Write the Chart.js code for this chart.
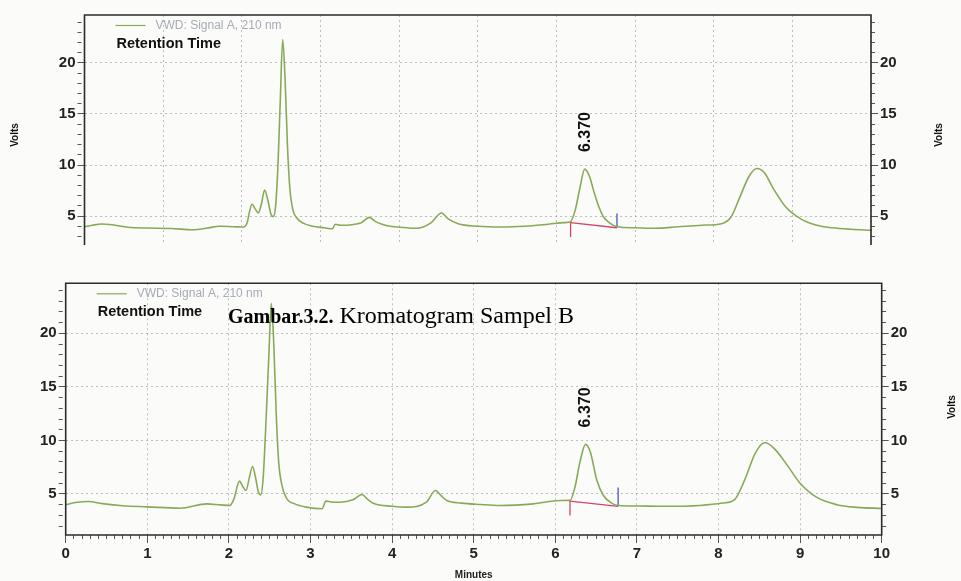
<!DOCTYPE html>
<html>
<head>
<meta charset="utf-8">
<script src="https://cdn.jsdelivr.net/npm/chart.js@4.4.0/dist/chart.umd.min.js"></script>
<style>
  html, body { margin: 0; padding: 0; background: #fbfbfa; }
  #wrap { position: relative; width: 961px; height: 581px; overflow: hidden; }
  canvas { position: absolute; left: 0; }
  #topChart { top: 0; }
  #botChart { top: 260px; }
  #caption { position: absolute; left: 228px; top: 302px; font-family: "Liberation Serif", "Times New Roman", serif;
             font-size: 20px; color: #000; white-space: nowrap; }
  #caption .rest { font-size: 24px; }
</style>
</head>
<body>
<div id="wrap">
  <canvas id="topChart" width="961" height="260"></canvas>
  <canvas id="botChart" width="961" height="321"></canvas>
  <div id="caption"><b>Gambar.3.2.</b><span class="rest"> Kromatogram Sampel B</span></div>
</div>
<script>
// retention time (minutes) and signal (volts)
const topTime  = [0.00, 0.10, 0.22, 0.35, 0.55, 0.80, 1.10, 1.38, 1.55, 1.72, 1.90, 2.02, 2.07, 2.10, 2.13, 2.17, 2.21, 2.25, 2.29, 2.33,
                  2.37, 2.40, 2.43, 2.46, 2.49, 2.52, 2.55, 2.58, 2.61, 2.65, 2.70, 2.78, 2.90, 3.05, 3.15, 3.19, 3.25, 3.40, 3.52, 3.62,
                  3.70, 3.85, 4.02, 4.22, 4.40, 4.54, 4.62, 4.75, 5.00, 5.30, 5.60, 5.90, 6.10, 6.18, 6.24, 6.30, 6.36, 6.42, 6.48, 6.54,
                  6.60, 6.68, 6.77, 7.00, 7.25, 7.55, 7.85, 8.10, 8.22, 8.33, 8.45, 8.55, 8.65, 8.75, 8.92, 9.09, 9.31, 9.51, 9.75, 10.0]
const topVolts = [3.95, 4.10, 4.22, 4.15, 3.90, 3.82, 3.78, 3.65, 3.80, 4.00, 3.95, 3.92, 4.40, 5.50, 6.15, 5.70, 5.30, 6.20, 7.55, 6.60,
                  5.20, 4.95, 6.00, 10.0, 16.5, 22.3, 18.5, 12.0, 7.80, 5.60, 4.80, 4.30, 4.00, 3.85, 3.75, 4.20, 4.10, 4.15, 4.35, 4.87,
                  4.45, 4.05, 3.90, 3.80, 4.30, 5.30, 4.75, 4.25, 4.00, 3.92, 4.00, 4.20, 4.35, 4.45, 5.60, 7.80, 9.60, 8.90, 7.30, 5.90,
                  4.90, 4.30, 3.95, 3.85, 3.80, 3.95, 4.10, 4.25, 4.90, 6.80, 8.90, 9.65, 9.20, 7.80, 5.85, 4.80, 4.10, 3.85, 3.70, 3.60]

const botTime  = [0.00, 0.12, 0.28, 0.45, 0.70, 1.00, 1.40, 1.73, 1.90, 2.01, 2.06, 2.13, 2.17, 2.21, 2.25, 2.29, 2.33, 2.36, 2.39, 2.42,
                  2.45, 2.49, 2.52, 2.55, 2.58, 2.61, 2.65, 2.71, 2.80, 2.95, 3.14, 3.19, 3.25, 3.36, 3.52, 3.63, 3.70, 3.77, 4.00, 4.18,
                  4.42, 4.53, 4.60, 4.67, 4.85, 5.08, 5.32, 5.73, 6.06, 6.18, 6.24, 6.30, 6.37, 6.43, 6.51, 6.59, 6.68, 6.77, 7.00, 7.35,
                  7.77, 8.05, 8.20, 8.32, 8.45, 8.57, 8.70, 8.85, 9.00, 9.20, 9.45, 9.70, 10.0]
const botVolts = [4.00, 4.20, 4.30, 4.10, 3.90, 3.80, 3.67, 4.08, 3.98, 3.93, 4.50, 6.20, 5.70, 5.33, 6.50, 7.57, 6.40, 5.20, 4.92, 6.50,
                  11.0, 18.0, 22.8, 19.0, 12.5, 8.00, 5.80, 4.55, 4.10, 3.77, 3.62, 4.33, 4.25, 4.23, 4.45, 4.95, 4.50, 4.14, 3.85, 3.77,
                  4.23, 5.33, 4.85, 4.39, 4.15, 4.02, 3.93, 4.08, 4.39, 4.40, 5.60, 7.90, 9.63, 8.90, 6.26, 4.86, 4.20, 3.93, 3.88, 3.85,
                  3.93, 4.15, 4.50, 6.30, 8.80, 9.80, 9.10, 7.60, 6.00, 4.70, 4.00, 3.75, 3.65]

const peakTime = 6.370
const yMajor = [5, 10, 15, 20]
const xMajor = [0, 1, 2, 3, 4, 5, 6, 7, 8, 9, 10]

// integration marks of the 6.370 peak: start tick, baseline, end tick  [time, volts]
const topStartMark = [[6.18, 4.45], [6.18, 2.95]]
const topBaseMark  = [[6.18, 4.35], [6.77, 3.85]]
const topEndMark   = [[6.77, 3.85], [6.77, 5.25]]
const botStartMark = [[6.18, 4.40], [6.18, 3.00]]
const botBaseMark  = [[6.18, 4.33], [6.77, 3.85]]
const botEndMark   = [[6.77, 3.85], [6.77, 5.60]]

const lineGreen = '#88aa58'
const gridGrey = 'rgba(140,140,140,0.55)'
const clear = 'rgba(0,0,0,0)'
const sans = 'Liberation Sans, Arial, sans-serif'
const tickFont = {family: sans, size: 15, weight: 'bold'}

function pairs(xs, ys) {
  return xs.map((x, i) => ({x: x, y: ys[i]}))
}
function mark(pts, color) {
  return {data: pts.map(p => ({x: p[0], y: p[1]})), borderColor: color, borderWidth: 1.3, pointRadius: 0, tension: 0}
}

function yAxis(pos, min, max, width, onArea) {
  return {
    type: 'linear', position: pos, min: min, max: max,
    afterFit: s => { s.width = width },
    ticks: {stepSize: 1, autoSkip: false, includeBounds: false, padding: 2, color: '#222', font: tickFont,
            callback: v => yMajor.includes(v) ? String(v) : ''},
    grid: {drawOnChartArea: onArea, tickLength: 7, tickColor: '#555', tickWidth: 1,
           color: c => (c.tick && yMajor.includes(c.tick.value)) ? gridGrey : clear,
           tickBorderDash: c => (c.tick && yMajor.includes(c.tick.value)) ? [] : [4, 20]},
    border: {display: false, dash: [2, 3]}
  }
}

// frame, legend and the text that sits on the plot
const decor = {
  id: 'decor',
  afterDraw(chart, args, o) {
    const ctx = chart.ctx, a = chart.chartArea
    ctx.save()
    ctx.strokeStyle = '#2b2b2b'
    ctx.lineWidth = 1.6
    ctx.beginPath()
    if (o.openBottom) {
      ctx.moveTo(a.left, a.bottom); ctx.lineTo(a.left, a.top); ctx.lineTo(a.right, a.top); ctx.lineTo(a.right, a.bottom)
    } else {
      ctx.rect(a.left, a.top, a.right - a.left, a.bottom - a.top)
    }
    ctx.stroke()

    // legend
    ctx.strokeStyle = lineGreen
    ctx.lineWidth = 1.2
    ctx.beginPath()
    ctx.moveTo(a.left + 31, a.top + 10.5); ctx.lineTo(a.left + 61, a.top + 10.5)
    ctx.stroke()
    ctx.fillStyle = '#a6abb5'
    ctx.font = '12px ' + sans
    ctx.textBaseline = 'middle'
    ctx.textAlign = 'left'
    ctx.fillText('VWD: Signal A, 210 nm', a.left + 71, a.top + 10.5)
    ctx.fillStyle = '#111'
    ctx.font = 'bold 14.5px ' + sans
    ctx.fillText('Retention Time', a.left + 32, a.top + 28.5)

    // peak label
    const ds = chart.data.datasets[0].data
    let best = ds[0]
    ds.forEach(p => { if (Math.abs(p.x - peakTime) < Math.abs(best.x - peakTime)) best = p })
    const px = chart.scales.x.getPixelForValue(peakTime)
    const py = chart.scales.y.getPixelForValue(best.y) - 17
    ctx.save()
    ctx.translate(px, py)
    ctx.rotate(-Math.PI / 2)
    ctx.font = 'bold 16px ' + sans
    ctx.fillStyle = '#111'
    ctx.fillText(peakTime.toFixed(3), 0, 0)
    ctx.restore()

    // axis titles
    ctx.font = 'bold 10px ' + sans
    ctx.textAlign = 'center'
    o.volts.forEach(v => {
      ctx.save()
      ctx.translate(v[0], v[1])
      ctx.rotate(-Math.PI / 2)
      ctx.fillText('Volts', 0, 0)
      ctx.restore()
    })
    ctx.restore()
  }
}

const common = {
  responsive: false, animation: false, devicePixelRatio: 1, events: [],
  plugins: {legend: {display: false}, tooltip: {enabled: false}}
}

new Chart(document.getElementById('topChart'), {
  type: 'line',
  data: {datasets: [
    {data: pairs(topTime, topVolts), borderColor: lineGreen, borderWidth: 1.6, pointRadius: 0, cubicInterpolationMode: 'monotone'},
    mark(topStartMark, '#d2456a'), mark(topBaseMark, '#d2456a'), mark(topEndMark, '#4a55c8')
  ]},
  options: Object.assign({}, common, {
    layout: {padding: {top: 15, bottom: 15, left: 0, right: 0}},
    plugins: Object.assign({}, common.plugins, {decor: {openBottom: true, volts: [[15, 135], [939, 135]]}}),
    scales: {
      x: {type: 'linear', min: 0, max: 10, afterFit: s => { s.height = 0 },
          ticks: {display: false, stepSize: 1},
          grid: {drawTicks: false, color: gridGrey}, border: {display: false, dash: [2, 3]}},
      y: yAxis('left', 2.16, 24.7, 84.5, true),
      y2: yAxis('right', 2.16, 24.7, 90, false)
    }
  }),
  plugins: [decor]
})

new Chart(document.getElementById('botChart'), {
  type: 'line',
  data: {datasets: [
    {data: pairs(botTime, botVolts), borderColor: lineGreen, borderWidth: 1.6, pointRadius: 0, cubicInterpolationMode: 'monotone'},
    mark(botStartMark, '#d2456a'), mark(botBaseMark, '#d2456a'), mark(botEndMark, '#4a55c8')
  ]},
  options: Object.assign({}, common, {
    layout: {padding: {top: 23.3, bottom: 0, left: 0, right: 0}},
    plugins: Object.assign({}, common.plugins, {decor: {openBottom: false, volts: [[952, 147]]}}),
    scales: {
      x: {type: 'linear', min: 0, max: 10, afterFit: s => { s.height = 46 },
          ticks: {stepSize: 0.1, autoSkip: false, includeBounds: false, maxRotation: 0, padding: 2, color: '#222', font: tickFont,
                  callback: v => xMajor.includes(v) ? String(v) : ''},
          grid: {tickLength: 8, tickColor: '#555', tickWidth: 1,
                 color: c => (c.tick && xMajor.includes(c.tick.value)) ? gridGrey : clear,
                 tickBorderDash: c => (c.tick && xMajor.includes(c.tick.value)) ? [] : [4, 20]},
          border: {display: false, dash: [2, 3]},
          title: {display: true, text: 'Minutes', color: '#222', padding: 0, font: {family: sans, size: 10, weight: 'bold'}}},
      y: yAxis('left', 1.17, 24.67, 65.7, true),
      y2: yAxis('right', 1.17, 24.67, 79.3, false)
    }
  }),
  plugins: [decor]
})
</script>
</body>
</html>
